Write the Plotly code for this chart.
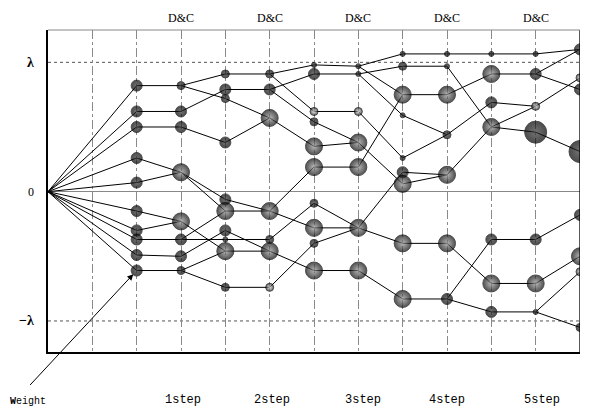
import plotly.graph_objects as go

# ---------------- data (values in units of lambda) ----------------
steps = list(range(13))
dc_steps = [3, 5, 7, 9, 11]
step_labels = ["1step", "2step", "3step", "4step", "5step"]
step_label_x = [3.05, 5.05, 7.1, 9.0, 11.15]
y_ticks = [1, 0, -1]
y_ticktext = ["<b>λ</b>", "0", "<b>−λ</b>"]

origin_value = 0.0

# node values per step (t=2 .. t=12)
w_t2 = [0.82, 0.62, 0.50, 0.26, 0.07, -0.15, -0.30, -0.37, -0.49, -0.61]
w_t3 = [0.82, 0.62, 0.50, 0.15, -0.23, -0.37, -0.50, -0.61]
w_t4 = [0.91, 0.79, 0.72, 0.38, -0.06, -0.15, -0.30, -0.37, -0.46, -0.74]
w_t5 = [0.91, 0.79, 0.57, -0.15, -0.37, -0.46, -0.74]
w_t6 = [0.98, 0.91, 0.62, 0.54, 0.35, 0.19, -0.09, -0.28, -0.40, -0.61]
w_t7 = [0.97, 0.91, 0.62, 0.38, 0.19, -0.28, -0.61]
w_t8 = [1.065, 0.97, 0.75, 0.59, 0.26, 0.15, 0.06, -0.40, -0.83]
w_t9 = [1.065, 0.97, 0.75, 0.44, 0.13, -0.40, -0.83]
w_t10 = [1.065, 0.91, 0.69, 0.50, -0.37, -0.71, -0.93]
w_t11 = [1.065, 0.91, 0.66, 0.46, -0.37, -0.71, -0.93]
w_t12 = [1.10, 0.88, 0.79, 0.31, -0.18, -0.50, -0.62, -1.05]

# node kind per step: size class (T,S,M,L,X) + look (b=black, d=dotted, w=light)
k_t2 = ["Mb"] * 10
k_t3 = ["Sb", "Mb", "Mb", "Ld", "Ld", "Mb", "Mb", "Sb"]
k_t4 = ["Sb", "Mb", "Sb", "Mb", "Mb", "Ld", "Mb", "Tb", "Ld", "Sb"]
k_t5 = ["Sb", "Mb", "Ld", "Ld", "Sb", "Ld", "Sw"]
k_t6 = ["Tb", "Mb", "Sw", "Sb", "Ld", "Ld", "Sb", "Ld", "Sb", "Ld"]
k_t7 = ["Tb", "Tb", "Sw", "Ld", "Ld", "Ld", "Ld"]
k_t8 = ["Tb", "Sb", "Ld", "Tb", "Tb", "Mb", "Ld", "Ld", "Ld"]
k_t9 = ["Tb", "Tb", "Ld", "Sb", "Ld", "Ld", "Mb"]
k_t10 = ["Tb", "Ld", "Mb", "Ld", "Mb", "Ld", "Mb"]
k_t11 = ["Tb", "Mb", "Sw", "Xb", "Mb", "Ld", "Tb"]
k_t12 = ["Mb", "Sw", "Mb", "Xb", "Mb", "Ld", "Sw", "Sb"]

# connections (index in previous step -> index in next step)
e_2_3 = [(0, 0), (1, 1), (2, 2), (3, 3), (4, 3), (5, 4), (6, 4), (7, 5), (8, 6), (9, 7)]
e_3_4 = [(0, 0), (0, 2), (1, 1), (2, 3), (3, 4), (3, 5), (4, 8), (5, 5), (5, 7), (6, 6), (7, 8), (7, 9)]
e_4_5 = [(0, 0), (1, 1), (2, 2), (3, 2), (4, 3), (5, 3), (6, 5), (7, 4), (8, 5), (9, 6)]
e_5_6 = [(0, 0), (0, 2), (1, 1), (1, 3), (2, 4), (3, 5), (3, 7), (4, 6), (5, 9), (6, 8)]
e_6_7 = [(0, 0), (1, 1), (2, 2), (3, 3), (4, 3), (5, 4), (6, 5), (7, 5), (8, 5), (9, 6)]
e_7_8 = [(0, 0), (0, 2), (1, 1), (1, 3), (2, 4), (3, 6), (4, 2), (5, 5), (5, 7), (6, 8)]
e_8_9 = [(0, 0), (1, 1), (2, 2), (3, 3), (4, 3), (5, 4), (6, 4), (7, 5), (8, 6)]
e_9_10 = [(0, 0), (1, 3), (2, 1), (3, 2), (4, 3), (5, 5), (6, 4), (6, 6)]
e_10_11 = [(0, 0), (1, 1), (2, 2), (3, 2), (3, 3), (4, 4), (5, 5), (6, 6)]
e_11_12 = [(0, 0), (1, 0), (1, 2), (2, 1), (3, 3), (4, 4), (5, 5), (6, 6), (6, 7)]

# ---------------- assemble ----------------
columns = {2: w_t2, 3: w_t3, 4: w_t4, 5: w_t5, 6: w_t6, 7: w_t7,
           8: w_t8, 9: w_t9, 10: w_t10, 11: w_t11, 12: w_t12}
kinds = {2: k_t2, 3: k_t3, 4: k_t4, 5: k_t5, 6: k_t6, 7: k_t7,
         8: k_t8, 9: k_t9, 10: k_t10, 11: k_t11, 12: k_t12}
links = {2: e_2_3, 3: e_3_4, 4: e_4_5, 5: e_5_6, 6: e_6_7, 7: e_7_8,
         8: e_8_9, 9: e_9_10, 10: e_10_11, 11: e_11_12}

ex, ey = [], []
for v in w_t2:
    ex += [0, 2, None]
    ey += [origin_value, v, None]
for t, pairs in links.items():
    for a, b in pairs:
        ex += [t, t + 1, None]
        ey += [columns[t][a], columns[t + 1][b], None]

fig = go.Figure()
fig.add_trace(go.Scatter(x=ex, y=ey, mode="lines",
                         line=dict(color="#000", width=1),
                         hoverinfo="skip", showlegend=False))

size_px = {"T": 5, "S": 8, "M": 11, "L": 17, "X": 22}
looks = {
    "b": dict(color="#000000", center="#383838"),
    "d": dict(color="#080808", center="#9a9a9a"),
    "w": dict(color="#222222", center="#e0e0e0"),
}
for look, st in looks.items():
    xs, ys, ss = [], [], []
    for t in columns:
        for v, k in zip(columns[t], kinds[t]):
            if k[1] == look:
                xs.append(t)
                ys.append(v)
                ss.append(size_px[k[0]])
    fig.add_trace(go.Scatter(
        x=xs, y=ys, mode="markers", hoverinfo="skip", showlegend=False,
        marker=dict(size=ss, color=st["color"],
                    gradient=dict(type="radial", color=st["center"]),
                    line=dict(color="black", width=1))))

# horizontal reference lines at +/- lambda
for yv in (1, -1):
    fig.add_shape(type="line", xref="paper", x0=0, x1=1, yref="y", y0=yv, y1=yv,
                  line=dict(color="#555", width=1, dash="dot"), layer="below")
# right and top border
fig.add_shape(type="line", xref="x", x0=12, x1=12, yref="paper", y0=0, y1=1,
              line=dict(color="black", width=1.3))
fig.add_shape(type="line", xref="paper", x0=0, x1=1, yref="paper", y0=1, y1=1,
              line=dict(color="#888", width=1))

serif = "Liberation Serif, Times New Roman, serif"
mono = "Liberation Mono, DejaVu Sans Mono, monospace"

ann = []
for yv, txt in zip(y_ticks, y_ticktext):
    ann.append(dict(x=-0.022, xref="paper", y=yv, yref="y", text=txt, showarrow=False,
                    xanchor="right", yanchor="middle",
                    font=dict(family=serif, size=14 if txt != "0" else 12, color="black")))
for t in dc_steps:
    ann.append(dict(x=t, xref="x", y=1.038, yref="paper", text="D&C", showarrow=False,
                    xanchor="center", yanchor="middle",
                    font=dict(family=serif, size=12, color="black")))
for x, txt in zip(step_label_x, step_labels):
    ann.append(dict(x=x, xref="x", y=-0.149, yref="paper", text=txt, showarrow=False,
                    xanchor="center", yanchor="middle",
                    font=dict(family=mono, size=12, color="black")))
ann.append(dict(x=12.3, xref="x", y=0, yref="y", text="t", showarrow=False,
                xanchor="center", yanchor="middle",
                font=dict(family=serif, size=10, color="black")))
ann.append(dict(x=-0.075, xref="paper", y=-0.155, yref="paper", text="<b>W</b>eight",
                showarrow=False, xanchor="left", yanchor="middle",
                font=dict(family=mono, size=10, color="black")))
ann.append(dict(x=2, xref="x", y=w_t2[-1], yref="y", text="", showarrow=True,
                ax=-108, ay=116, arrowhead=2, arrowsize=1.2, arrowwidth=1,
                arrowcolor="black", standoff=5))

# the page body adds an 8px offset, so the figure is 8px smaller than the window
fig.update_layout(
    width=590, height=402,
    margin=dict(l=40, r=18, t=22, b=58),
    paper_bgcolor="white", plot_bgcolor="white",
    annotations=ann,
    xaxis=dict(range=[0, 12], tickvals=list(range(1, 12)), showticklabels=False,
               ticks="", showgrid=True, gridcolor="#8a8a8a", gridwidth=1,
               griddash="dashdot", zeroline=False,
               showline=True, linecolor="black", linewidth=1.5),
    yaxis=dict(range=[-1.24, 1.25], tickvals=[0], showticklabels=False, ticks="",
               showgrid=False, zeroline=True, zerolinecolor="#888", zerolinewidth=1,
               showline=True, linecolor="black", linewidth=1.5),
)

fig.write_html("out.html")
